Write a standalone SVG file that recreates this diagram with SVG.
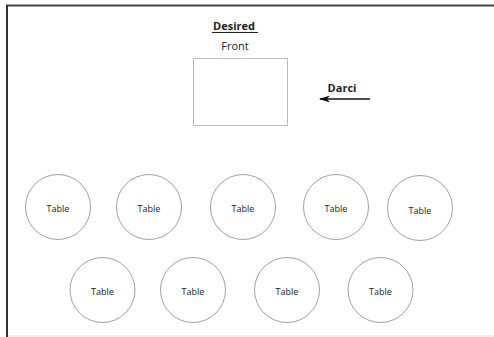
<svg xmlns="http://www.w3.org/2000/svg" width="494" height="337" viewBox="0 0 494 337">
<style>
.t{font-family:"Open Sans","Noto Sans","Liberation Sans",sans-serif;fill:#222;text-anchor:middle}
.tbl{fill:#fff;stroke:#888;stroke-width:0.8}
.lbl{font-size:9px}
</style>
<defs>
<marker id="ah" markerWidth="11" markerHeight="7" refX="10" refY="3.5" orient="auto" markerUnits="userSpaceOnUse">
<path d="M11,0 L0,3.5 L11,7 L8,3.5 Z" fill="#111" transform="rotate(180 5.5 3.5)"/>
</marker>
</defs>
<rect x="0" y="0" width="494" height="337" fill="#fff"/>
<g id="frame">
<line x1="6" y1="5.5" x2="494" y2="5.5" stroke="#444" stroke-width="2"/>
<line x1="7" y1="5" x2="7" y2="337" stroke="#333" stroke-width="2"/>
<line x1="8" y1="336" x2="494" y2="336" stroke="#ddd" stroke-width="1"/>
</g>
<g id="title">
<text class="t" x="234" y="30" font-size="11" font-weight="bold">Desired</text>
<line x1="212" y1="32.5" x2="258" y2="32.5" stroke="#222" stroke-width="1"/>
</g>
<g id="front">
<text class="t" x="235" y="50" font-size="11">Front</text>
<rect x="193.5" y="58.5" width="94" height="67" fill="#fff" stroke="#bbb" stroke-width="1"/>
</g>
<g id="darci">
<text class="t" x="342" y="92" font-size="11" font-weight="bold">Darci</text>
</g>
<g id="connectors">
<line x1="370" y1="99" x2="320" y2="99" stroke="#111" stroke-width="1.6" marker-end="url(#ah)"/>
</g>
<g id="table1"><circle class="tbl" cx="58" cy="207" r="32.5"/><text class="t lbl" x="58" y="212">Table</text></g>
<g id="table2"><circle class="tbl" cx="149" cy="207" r="32.5"/><text class="t lbl" x="149" y="212">Table</text></g>
<g id="table3"><circle class="tbl" cx="243" cy="207" r="32.5"/><text class="t lbl" x="243" y="212">Table</text></g>
<g id="table4"><circle class="tbl" cx="336" cy="207" r="32.5"/><text class="t lbl" x="336" y="212">Table</text></g>
<g id="table5"><circle class="tbl" cx="420" cy="208" r="32.5"/><text class="t lbl" x="420" y="214">Table</text></g>
<g id="table6"><circle class="tbl" cx="102.5" cy="290" r="32.5"/><text class="t lbl" x="102.5" y="295">Table</text></g>
<g id="table7"><circle class="tbl" cx="193" cy="290" r="32.5"/><text class="t lbl" x="193" y="295">Table</text></g>
<g id="table8"><circle class="tbl" cx="287" cy="290" r="32.5"/><text class="t lbl" x="287" y="295">Table</text></g>
<g id="table9"><circle class="tbl" cx="380.5" cy="290" r="32.5"/><text class="t lbl" x="380.5" y="295">Table</text></g>
</svg>
